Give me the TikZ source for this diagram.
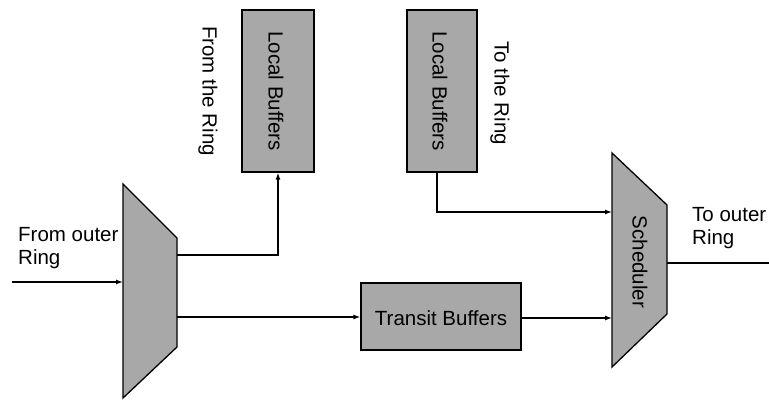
\documentclass[tikz,border=0pt]{standalone}
\usepackage{fontspec}
\setmainfont{Liberation Sans}
\usetikzlibrary{arrows.meta}
\definecolor{boxgray}{RGB}{168,168,168}
\begin{document}
\begin{tikzpicture}[x=1pt,y=-1pt,
  lbl/.style={font=\fontsize{20.5}{23.5}\selectfont, inner sep=0pt},
  blk/.style={draw=black, line width=1.3pt, fill=boxgray},
  conn/.style={line width=1.3pt},
  arr/.style={conn, -{Latex[length=7pt,width=5pt]}}]
\useasboundingbox (0,0) rectangle (769,401);
% demultiplexer (left trapezoid)
\draw[blk] (123,184) -- (177,238) -- (177,347) -- (123,398) -- cycle;
\coordinate (dmin) at (123,282);
\coordinate (dmtop) at (177,255);
\coordinate (dmbot) at (177,317);
% scheduler (right trapezoid)
\draw[blk] (612,153) -- (667,205) -- (667,314) -- (612,367) -- cycle;
\coordinate (schtop) at (612,212);
\coordinate (schbot) at (612,318);
\coordinate (schout) at (667,263);
\node[lbl, rotate=-90] (sch) at (640,262) {Scheduler};
% boxes
\node[blk, minimum width=72pt, minimum height=162pt, inner sep=0pt] (lb1) at (278,91) {};
\node[lbl, rotate=-90] (lb1t) at (276,91) {Local Buffers};
\node[blk, minimum width=70pt, minimum height=162pt, inner sep=0pt] (lb2) at (442,91) {};
\node[lbl, rotate=-90] (lb2t) at (440,91) {Local Buffers};
\node[blk, minimum width=160pt, minimum height=67pt, inner sep=0pt] (tb) at (441,316.5) {};
\node[lbl] (tbt) at (441,318) {Transit Buffers};
% labels
\node[lbl, rotate=-90] (fr) at (208,91) {From the Ring};
\node[lbl, rotate=-90] (tr) at (500,93) {To the Ring};
\node[lbl, anchor=north west, align=left] (fo) at (18,227) {From outer\\Ring};
\node[lbl, anchor=north west, align=left] (to) at (692,207) {To outer\\Ring};
% connectors
\coordinate (in) at (12,282);
\coordinate (out) at (769,263);
\draw[arr] (in) -- (dmin);
\draw[arr] (dmtop) -| (lb1.south);
\draw[arr] (dmbot) -- (tb.west |- dmbot);
\draw[arr] (lb2.south -| 437,0) |- (schtop);
\draw[arr] (tb.east |- schbot) -- (schbot);
\draw[conn] (schout) -- (out);
\end{tikzpicture}
\end{document}
